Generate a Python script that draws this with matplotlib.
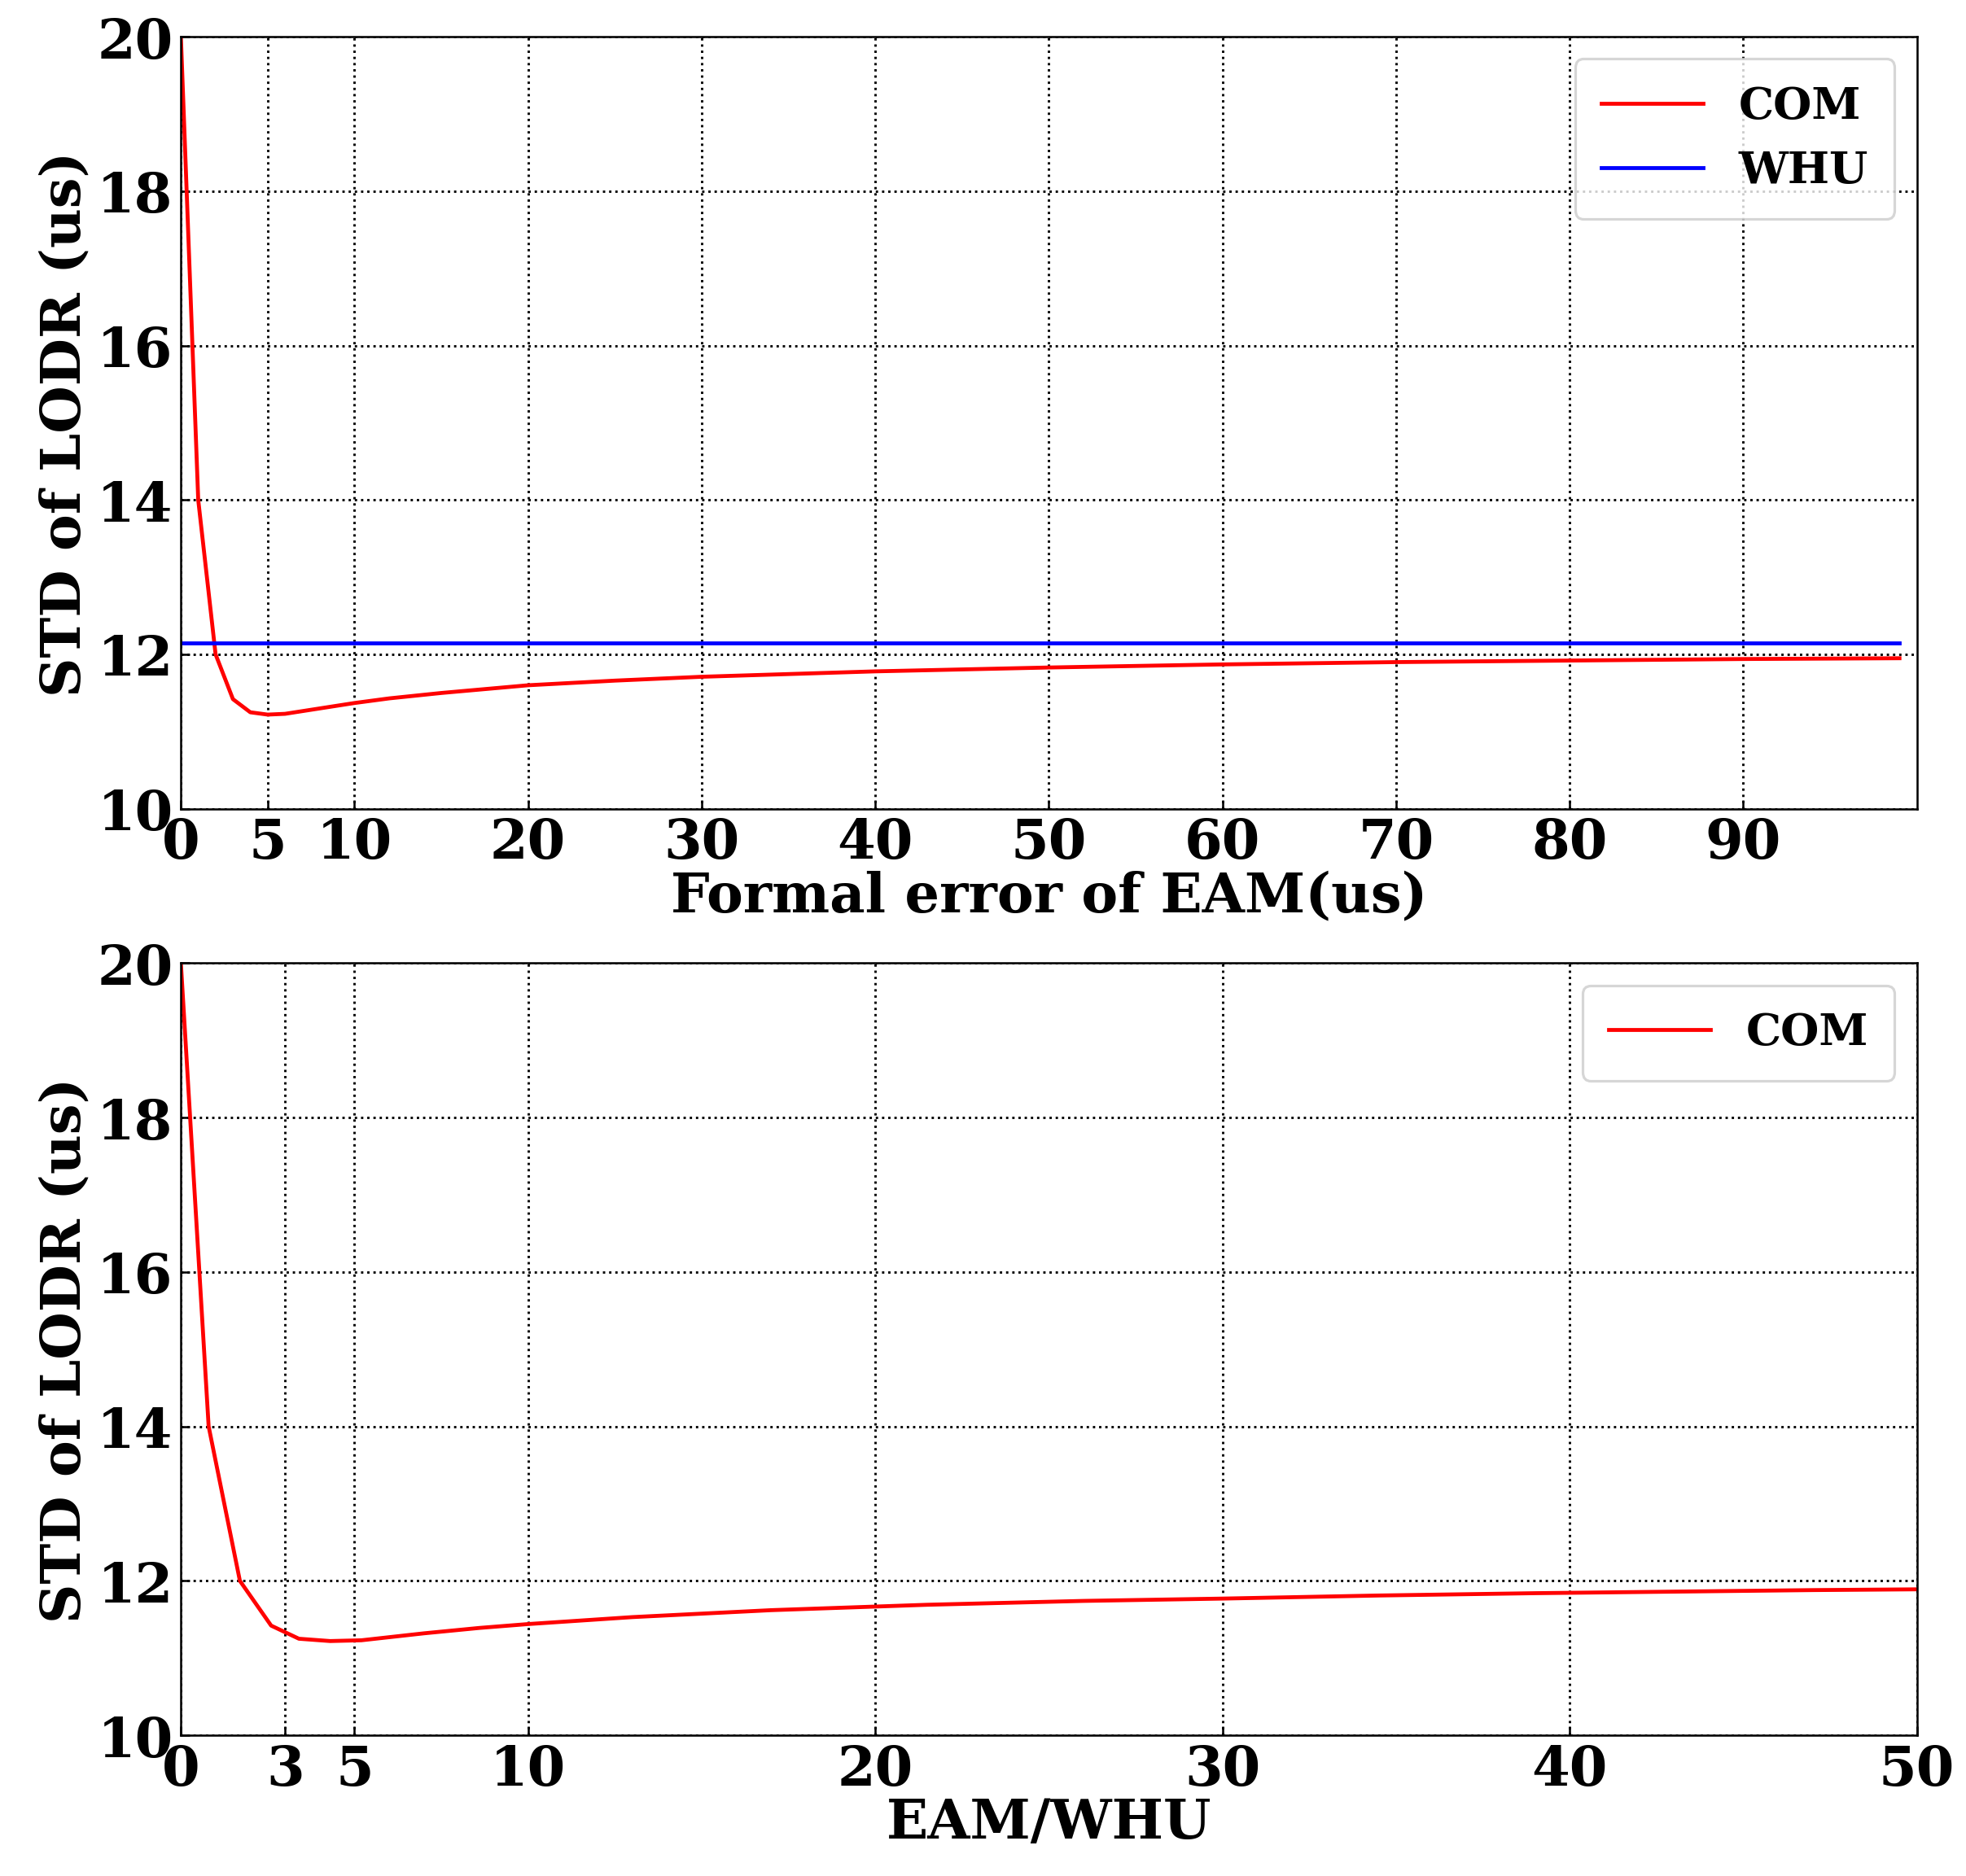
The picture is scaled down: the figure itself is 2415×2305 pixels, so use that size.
import numpy as np
import matplotlib.pyplot as plt

plt.rcParams['font.family'] = 'DejaVu Serif'
plt.rcParams['font.weight'] = 'bold'

# top panel: formal error of EAM
x_top = [0, 1, 2, 3, 4, 5, 6, 8, 10, 12, 15, 20, 25, 30, 40, 50, 60, 70, 80, 90, 99]
com_top = [20, 14, 12, 11.42, 11.25, 11.22, 11.23, 11.3, 11.37, 11.43, 11.5, 11.6, 11.66, 11.71, 11.78, 11.83, 11.87, 11.9, 11.92, 11.94, 11.95]
whu_top = 12.15

# bottom panel: EAM/WHU ratio
x_bot = [0, 0.8, 1.7, 2.6, 3.4, 4.3, 5.2, 7, 8.6, 10, 13, 17, 21.5, 26, 30, 34.5, 39, 43, 47, 50]
com_bot = [20, 14, 12, 11.42, 11.25, 11.22, 11.23, 11.32, 11.39, 11.44, 11.53, 11.62, 11.69, 11.74, 11.77, 11.81, 11.84, 11.86, 11.88, 11.89]

fig, (ax1, ax2) = plt.subplots(2, 1, figsize=(10.5, 10.026), dpi=230)
fig.subplots_adjust(left=0.092, right=0.975, top=0.98, bottom=0.075, hspace=0.2)

ax1.plot(x_top, com_top, color='red', lw=1.5, label='COM')
ax1.plot([0, 99], [whu_top, whu_top], color='blue', lw=1.5, label='WHU')
ax1.set_xlim(0, 100)
ax1.set_xticks([0, 5, 10, 20, 30, 40, 50, 60, 70, 80, 90])
ax1.set_xlabel('Formal error of EAM(us)', fontsize=21, fontweight='bold', labelpad=0)

ax2.plot(x_bot, com_bot, color='red', lw=1.5, label='COM')
ax2.set_xlim(0, 50)
ax2.set_xticks([0, 3, 5, 10, 20, 30, 40, 50])
ax2.set_xlabel('EAM/WHU', fontsize=21, fontweight='bold', labelpad=0)

for ax in (ax1, ax2):
    ax.set_ylim(10, 20)
    ax.set_yticks([10, 12, 14, 16, 18, 20])
    ax.set_ylabel('STD of LODR (us)', fontsize=21, fontweight='bold', labelpad=2)
    ax.grid(True, linestyle=':', color='black', lw=0.9)
    ax.tick_params(direction='in', labelsize=21, pad=3)
    leg = ax.legend(loc='upper right', fontsize=17, handlelength=2.3, borderpad=0.6)

plt.savefig('out.png')
